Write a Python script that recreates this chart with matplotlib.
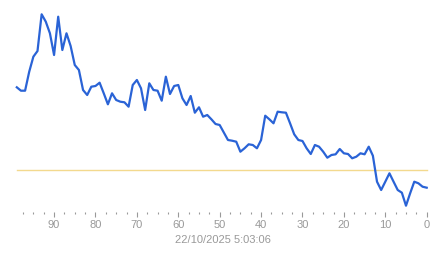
import matplotlib
matplotlib.use('Agg')
import matplotlib.pyplot as plt
import numpy as np

# minutes ago (x axis runs 99 -> 0)
minutes_ago = list(range(99, -1, -1))
values = [132.7, 129.3, 129.3, 148.3, 163.3, 169.0, 205.7, 198.3, 186.7, 165.0,
          203.3, 170.0, 186.7, 174.0, 155.0, 150.0, 130.0, 125.0, 133.3, 134.0,
          137.3, 126.7, 115.7, 126.7, 120.0, 118.3, 117.7, 113.3, 135.0, 140.0,
          131.7, 110.0, 136.7, 130.0, 129.3, 119.3, 143.3, 126.0, 134.0, 135.0,
          121.7, 115.0, 124.0, 107.3, 112.7, 103.3, 105.0, 100.7, 96.0, 95.0,
          87.5, 80.0, 79.3, 78.3, 68.3, 71.7, 75.7, 75.0, 71.7, 80.0,
          104.3, 100.7, 96.7, 108.3, 107.7, 107.3, 96.7, 85.7, 80.0, 79.0,
          71.7, 66.0, 75.0, 73.3, 68.3, 62.3, 65.0, 65.7, 71.0, 66.7,
          66.0, 61.7, 63.3, 66.7, 65.7, 73.3, 64.3, 38.3, 30.0, 38.3,
          46.7, 38.3, 30.0, 27.3, 14.3, 26.7, 38.3, 36.7, 33.3, 32.3]
reference_level = 50
timestamp = '22/10/2025 5:03:06'

plt.rcParams['font.family'] = ['Liberation Sans', 'DejaVu Sans']

fig = plt.figure(figsize=(4.43, 2.58), dpi=100)
ax = fig.add_axes([15 / 443, 46 / 258, 415 / 443, 207 / 258])

ax.plot([minutes_ago[0], minutes_ago[-1]], [reference_level, reference_level],
        color='#f3d98e', lw=1.0)
ax.plot(minutes_ago, values, color='#2a63d6', lw=1.6, solid_joinstyle='round')

ax.set_xlim(99 + 1.8 / 4.14, -3.3 / 4.14)
ax.set_ylim(8, 215)

for s in ax.spines.values():
    s.set_visible(False)
ax.set_yticks([])
ax.set_xticks(np.arange(0, 100, 10))
ax.set_xticks(np.arange(0, 99, 2.5), minor=True)
ax.tick_params(axis='x', which='major', length=3.5, width=0.8, color='#999999',
               labelcolor='#999999', labelsize=8, pad=2)
ax.tick_params(axis='x', which='minor', length=1.2, width=0.8, color='#999999')
ax.set_xlabel(timestamp, color='#999999', fontsize=8, labelpad=4)

fig.savefig('out.png', dpi=100)
